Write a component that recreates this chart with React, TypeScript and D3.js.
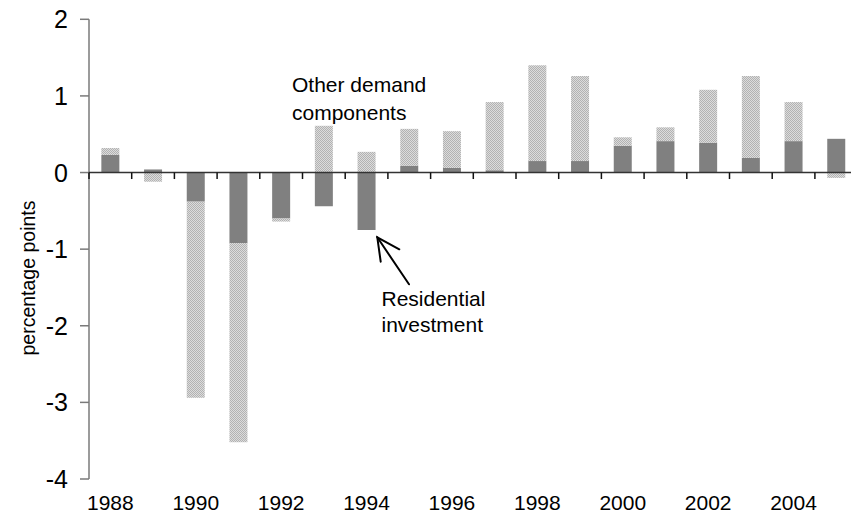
import React from "react";
import * as d3 from "d3";

const years = [1988, 1989, 1990, 1991, 1992, 1993, 1994, 1995, 1996, 1997, 1998, 1999, 2000, 2001, 2002, 2003, 2004, 2005];
const residential = [0.23, 0.04, -0.38, -0.92, -0.6, -0.44, -0.75, 0.09, 0.06, 0.03, 0.15, 0.15, 0.35, 0.41, 0.39, 0.19, 0.41, 0.44];
const otherDemand = [0.09, -0.12, -2.56, -2.6, -0.04, 0.61, 0.27, 0.48, 0.48, 0.89, 1.25, 1.11, 0.11, 0.18, 0.69, 1.07, 0.51, -0.07];
const yTicks = [2, 1, 0, -1, -2, -3, -4];
const xLabelYears = [1988, 1990, 1992, 1994, 1996, 1998, 2000, 2002, 2004];

const W = 851;
const H = 526;
const FONT = "'Liberation Sans', Arial, Helvetica, sans-serif";

export default function App() {
  const left = 89;
  const step = 42.7;
  const pad = 1 - 18 / step;
  const x = d3
    .scaleBand<number>()
    .domain(years)
    .range([left, left + step * years.length])
    .paddingInner(pad)
    .paddingOuter(pad / 2);
  const y = d3.scaleLinear().domain([-4, 2]).range([479, 19.3]);

  const table = years.map((yr, i) => ({ year: yr, residential: residential[i], other: otherDemand[i] }));
  const stack = d3
    .stack<any>()
    .keys(["residential", "other"])
    .offset(d3.stackOffsetDiverging);
  const series = stack(table);
  const fills: Record<string, string> = { residential: "#808080", other: "url(#dots)" };

  const boundaries = d3.range(years.length + 1).map((i) => left + i * step);

  return (
    <svg width={W} height={H} style={{ position: "absolute", left: 0, top: 0, background: "#fff" }}>
      <defs>
        <pattern id="dots" width={2} height={2} patternUnits="userSpaceOnUse">
          <rect width={2} height={2} fill="#dcdcdc" />
          <rect width={1} height={1} fill="#b2b2b2" />
          <rect x={1} y={1} width={1} height={1} fill="#b2b2b2" />
        </pattern>
      </defs>
      <rect width={W} height={H} fill="#fff" />
      {series.map((s) => (
        <g key={s.key}>
          {s.map((d, i) => {
            const y0 = y(d[0]);
            const y1 = y(d[1]);
            return (
              <rect
                key={i}
                x={x(years[i])}
                width={x.bandwidth()}
                y={Math.min(y0, y1)}
                height={Math.abs(y1 - y0)}
                fill={fills[s.key]}
              />
            );
          })}
        </g>
      ))}
      {/* y axis */}
      <line x1={left} x2={left} y1={y(2)} y2={y(-4)} stroke="#7a7a7a" strokeWidth={1.5} />
      {yTicks.map((t) => (
        <g key={t}>
          <line x1={left - 9} x2={left} y1={y(t)} y2={y(t)} stroke="#7a7a7a" strokeWidth={1.5} />
          <text x={68} y={y(t) + 9} textAnchor="end" fontFamily={FONT} fontSize={25} fill="#000">
            {t}
          </text>
        </g>
      ))}
      {/* zero line */}
      <line x1={left} x2={W} y1={y(0)} y2={y(0)} stroke="#333" strokeWidth={1.5} />
      {boundaries.map((b, i) => (
        <line key={i} x1={b} x2={b} y1={y(0)} y2={y(0) + 6.5} stroke="#111" strokeWidth={1.5} />
      ))}
      {xLabelYears.map((yr) => (
        <text
          key={yr}
          x={(x(yr) as number) + x.bandwidth() / 2}
          y={510}
          textAnchor="middle"
          fontFamily={FONT}
          fontSize={21}
          fill="#000"
        >
          {yr}
        </text>
      ))}
      <text
        transform={`translate(34.5, 278) rotate(-90)`}
        textAnchor="middle"
        fontFamily={FONT}
        fontSize={19.5}
        fill="#000"
      >
        percentage points
      </text>
      <text fontFamily={FONT} fontSize={21} fill="#000">
        <tspan x={292} y={92.3}>Other demand</tspan>
        <tspan x={292} y={120}>components</tspan>
      </text>
      <text fontFamily={FONT} fontSize={21} fill="#000">
        <tspan x={381.5} y={306}>Residential</tspan>
        <tspan x={381.5} y={331.7}>investment</tspan>
      </text>
      <g stroke="#000" strokeWidth={2} fill="none" strokeLinecap="round">
        <line x1={409} y1={284.3} x2={377.3} y2={237.3} />
        <polyline points="399.3,249.3 377.3,237.3 380.7,261.7" />
      </g>
    </svg>
  );
}
